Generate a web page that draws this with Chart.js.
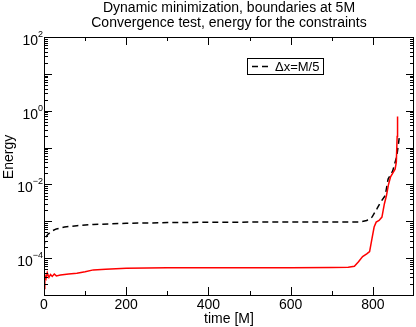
<!DOCTYPE html>
<html>
<head>
<meta charset="utf-8">
<script src="https://cdn.jsdelivr.net/npm/chart.js@4/dist/chart.umd.min.js"></script>
<style>
  body { margin: 0; background: #fff; }
  #wrap { width: 416px; height: 327px; }
</style>
</head>
<body>
<div id="wrap"><canvas id="myChart"></canvas></div>
<script>
// red curve (no legend entry)
let tRed = [0, 2, 5, 8, 12, 16, 20, 25, 30, 40, 50, 60, 80, 100, 120, 150, 200, 300, 400, 500, 600, 700, 740, 755, 765, 775, 785, 792, 798, 803, 808, 815, 822, 828, 833, 838, 843, 848, 854, 857, 859, 860];
let eRed = [1.5e-5, 3.5e-5, 2.8e-5, 4e-5, 3e-5, 3.6e-5, 3.2e-5, 3.7e-5, 3.3e-5, 3.5e-5, 3.6e-5, 3.7e-5, 3.9e-5, 4.3e-5, 4.8e-5, 5.0e-5, 5.3e-5, 5.5e-5, 5.5e-5, 5.5e-5, 5.5e-5, 5.6e-5, 5.7e-5, 6e-5, 8e-5, 1.1e-4, 1.3e-4, 1.5e-4, 3.5e-4, 7e-4, 9.5e-4, 1.05e-3, 1.3e-3, 3e-3, 5e-3, 1.0e-2, 1.6e-2, 2e-2, 2.6e-2, 4e-2, 0.2, 0.7];

// black dashed curve, dx = M/5
let tBlack = [0, 2, 5, 10, 20, 30, 50, 80, 120, 200, 300, 400, 500, 600, 700, 770, 785, 798, 810, 818, 830, 837, 848, 858, 864];
let eBlack = [2e-4, 3e-4, 3.8e-4, 4.5e-4, 5.5e-4, 6.2e-4, 7e-4, 7.6e-4, 8.2e-4, 8.8e-4, 9.2e-4, 9.4e-4, 9.5e-4, 9.5e-4, 9.5e-4, 9.6e-4, 1.05e-3, 1.3e-3, 2.2e-3, 3.2e-3, 5e-3, 1.4e-2, 2.3e-2, 5.7e-2, 0.18];

let titleLines = ['Dynamic minimization, boundaries at 5M', 'Convergence test, energy for the constraints'];
let xLabel = 'time [M]';
let yLabel = 'Energy';
let legendLabel = 'Δx=M/5';
let yExpLabels = [2, 0, -2, -4];

const FONT = '"Liberation Sans", Arial, sans-serif';

function pts(t, v) {
  return t.map((x, i) => ({x: x, y: v[i]}));
}

const decor = {
  id: 'decor',
  afterDraw(chart) {
    const ctx = chart.ctx;
    const a = chart.chartArea;
    const x = chart.scales.x, y = chart.scales.y;
    ctx.save();
    ctx.strokeStyle = '#000';
    ctx.fillStyle = '#000';
    ctx.lineWidth = 1;
    // frame
    ctx.strokeRect(Math.round(a.left) + 0.5, Math.round(a.top) + 0.5,
      Math.round(a.right - a.left) - 1, Math.round(a.bottom - a.top));
    // x ticks (inward, top and bottom)
    ctx.beginPath();
    for (let v = 100; v < 900; v += 100) {
      const px = Math.round(x.getPixelForValue(v)) + 0.5;
      const len = v % 200 === 0 ? 8 : 4;
      ctx.moveTo(px, a.bottom); ctx.lineTo(px, a.bottom - len);
      ctx.moveTo(px, a.top); ctx.lineTo(px, a.top + len);
    }
    // y ticks (log, inward, left and right)
    for (let e = -5; e < 2; e++) {
      for (let m = 1; m < 10; m++) {
        if (e === -5 && m === 1) continue;
        const py = Math.round(y.getPixelForValue(m * Math.pow(10, e))) + 0.5;
        const len = m === 1 ? 8 : 4;
        ctx.moveTo(a.left, py); ctx.lineTo(a.left + len, py);
        ctx.moveTo(a.right, py); ctx.lineTo(a.right - len, py);
      }
    }
    ctx.stroke();
    // y tick labels with superscripts
    yExpLabels.forEach(e => {
      const py = y.getPixelForValue(Math.pow(10, e));
      const ex = String(e).replace('-', '\u2212');
      ctx.font = '9px ' + FONT;
      const w = ctx.measureText(ex).width;
      ctx.textAlign = 'left';
      ctx.textBaseline = 'alphabetic';
      ctx.fillText(ex, 43 - w, py);
      ctx.font = '14px ' + FONT;
      ctx.textAlign = 'right';
      ctx.fillText('10', 43 - w, py + 8);
    });
    // titles
    ctx.font = '14px ' + FONT;
    ctx.textAlign = 'center';
    ctx.textBaseline = 'middle';
    const cx = (a.left + a.right) / 2;
    ctx.fillText(titleLines[0], cx, 8);
    ctx.fillText(titleLines[1], cx, 23);
    ctx.fillText(xLabel, cx, 319);
    ctx.save();
    ctx.translate(9, 157);
    ctx.rotate(-Math.PI / 2);
    ctx.fillText(yLabel, 0, 0);
    ctx.restore();
    // legend
    ctx.strokeRect(247.5, 58.5, 76, 16);
    ctx.beginPath();
    ctx.setLineDash([6, 4]);
    ctx.lineWidth = 1.5;
    ctx.moveTo(252, 66.5); ctx.lineTo(270, 66.5);
    ctx.stroke();
    ctx.setLineDash([]);
    ctx.font = '13px ' + FONT;
    ctx.textAlign = 'left';
    ctx.fillText(legendLabel, 275, 67);
    ctx.restore();
  }
};

let myChart = document.getElementById('myChart').getContext('2d');
let chart = new Chart(myChart, {
  type: 'line',
  data: {
    datasets: [{
      label: 'red',
      data: pts(tRed, eRed),
      borderColor: '#ff0000',
      borderWidth: 1.5,
      pointRadius: 0,
      fill: false
    }, {
      label: legendLabel,
      data: pts(tBlack, eBlack),
      borderColor: '#000000',
      borderWidth: 1.5,
      borderDash: [6, 4],
      pointRadius: 0,
      fill: false
    }]
  },
  options: {
    responsive: true,
    maintainAspectRatio: false,
    animation: false,
    layout: { padding: { top: 37, right: 1, left: 0, bottom: 0 } },
    plugins: {
      legend: { display: false },
      title: { display: false },
      tooltip: { enabled: false }
    },
    scales: {
      x: {
        type: 'linear',
        min: 0,
        max: 900,
        grid: { display: false, drawTicks: false },
        border: { display: false },
        ticks: {
          stepSize: 100,
          padding: 2,
          maxRotation: 0,
          autoSkip: false,
          color: '#000',
          font: { family: FONT, size: 14 },
          callback: v => (v % 200 === 0 ? String(v) : '')
        },
        afterFit: s => { s.height = 32; }
      },
      y: {
        type: 'logarithmic',
        min: 1e-5,
        max: 1e2,
        grid: { display: false, drawTicks: false },
        border: { display: false },
        ticks: { display: false },
        afterFit: s => { s.width = 44; }
      }
    }
  },
  plugins: [decor]
});
</script>
</body>
</html>
